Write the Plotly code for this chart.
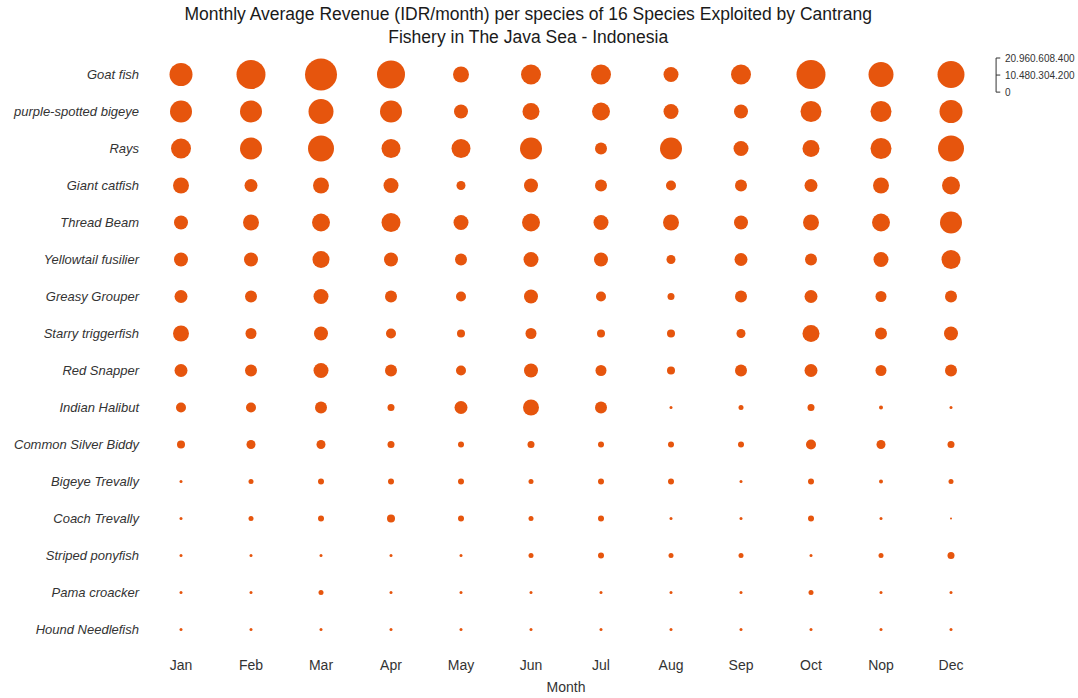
import plotly.graph_objects as go

months = ["Jan", "Feb", "Mar", "Apr", "May", "Jun", "Jul", "Aug", "Sep", "Oct", "Nop", "Dec"]

species = [
    "Goat fish", "purple-spotted bigeye", "Rays", "Giant catfish", "Thread Beam",
    "Yellowtail fusilier", "Greasy Grouper", "Starry triggerfish", "Red Snapper",
    "Indian Halibut", "Common Silver Biddy", "Bigeye Trevally", "Coach Trevally",
    "Striped ponyfish", "Pama croacker", "Hound Needlefish",
]

# Monthly average revenue (IDR/month), one list per species, Jan..Dec
goat_fish = [10829000000, 17216000000, 20960608400, 16049000000, 5240000000, 8188000000,
             8188000000, 4606000000, 8188000000, 17216000000, 12794000000, 14923000000]
purple_spotted_bigeye = [9907000000, 9907000000, 12794000000, 9907000000, 4012000000, 5916000000,
                         6632000000, 4606000000, 4012000000, 9027000000, 9027000000, 10829000000]
rays = [8188000000, 9907000000, 13838000000, 7390000000, 7390000000, 9907000000,
        2948000000, 9907000000, 4606000000, 5916000000, 9027000000, 13838000000]
giant_catfish = [5240000000, 3459000000, 5240000000, 4606000000, 1658000000, 4012000000,
                 2948000000, 2047000000, 2948000000, 3459000000, 5240000000, 6632000000]
thread_beam = [4012000000, 5240000000, 6632000000, 7390000000, 4606000000, 6632000000,
               4606000000, 5240000000, 4012000000, 5240000000, 6632000000, 9907000000]
yellowtail_fusilier = [4012000000, 4012000000, 5916000000, 4012000000, 2948000000, 4606000000,
                       4012000000, 1658000000, 3459000000, 2948000000, 4606000000, 7390000000]
greasy_grouper = [3459000000, 2948000000, 4606000000, 2948000000, 2047000000, 4012000000,
                  2047000000, 1003000000, 2948000000, 3459000000, 2477000000, 2948000000]
starry_triggerfish = [5240000000, 2477000000, 4012000000, 2047000000, 1310000000, 2477000000,
                      1310000000, 1310000000, 1658000000, 5916000000, 2948000000, 4012000000]
red_snapper = [3459000000, 2948000000, 4606000000, 2948000000, 2047000000, 4012000000,
               2477000000, 1310000000, 2948000000, 3459000000, 2477000000, 2948000000]
indian_halibut = [2047000000, 2047000000, 2948000000, 1003000000, 3459000000, 5240000000,
                  2948000000, 184000000, 512000000, 1003000000, 328000000, 184000000]
common_silver_biddy = [1310000000, 1658000000, 1658000000, 1003000000, 737000000, 1003000000,
                       737000000, 737000000, 737000000, 2047000000, 1658000000, 1003000000]
bigeye_trevally = [184000000, 512000000, 737000000, 737000000, 737000000, 512000000,
                   737000000, 737000000, 184000000, 737000000, 328000000, 512000000]
coach_trevally = [184000000, 512000000, 737000000, 1310000000, 737000000, 512000000,
                  737000000, 184000000, 184000000, 737000000, 184000000, 82000000]
striped_ponyfish = [184000000, 184000000, 184000000, 184000000, 184000000, 512000000,
                    737000000, 512000000, 512000000, 184000000, 512000000, 1003000000]
pama_croacker = [184000000, 184000000, 512000000, 184000000, 184000000, 184000000,
                 184000000, 184000000, 184000000, 512000000, 184000000, 184000000]
hound_needlefish = [184000000, 184000000, 184000000, 184000000, 184000000, 184000000,
                    184000000, 184000000, 184000000, 184000000, 184000000, 184000000]

revenue = [
    goat_fish, purple_spotted_bigeye, rays, giant_catfish, thread_beam,
    yellowtail_fusilier, greasy_grouper, starry_triggerfish, red_snapper,
    indian_halibut, common_silver_biddy, bigeye_trevally, coach_trevally,
    striped_ponyfish, pama_croacker, hound_needlefish,
]

xs, ys, vals = [], [], []
for name, row in zip(species, revenue):
    for m, v in zip(months, row):
        xs.append(m)
        ys.append(name)
        vals.append(v)

max_val = max(vals)
max_diam = 32
color = "#E6550D"
font_family = "Liberation Sans, Arial, sans-serif"
text_color = "#1a1a1a"

fig = go.Figure(go.Scatter(
    x=xs, y=ys, mode="markers",
    marker=dict(
        size=vals, sizemode="area", sizeref=2.0 * max_val / (max_diam ** 2), sizemin=1,
        color=color, line=dict(width=0), opacity=1,
    ),
    hovertemplate="%{y}<br>%{x}: %{marker.size:,}<extra></extra>",
    showlegend=False,
))


def dotted(n):
    return f"{int(round(n)):,}".replace(",", ".")


# size legend: bracket with three reference values, right of the plot area
leg_x = 1.012
leg_top, leg_bot = 0.9966, 0.939
leg_mid = (leg_top + leg_bot) / 2
shapes = [dict(type="line", xref="paper", yref="paper", x0=leg_x, x1=leg_x, y0=leg_bot, y1=leg_top,
               line=dict(color="#333333", width=1))]
annotations = []
for yy, val in [(leg_top, max_val), (leg_mid, max_val / 2), (leg_bot, 0)]:
    shapes.append(dict(type="line", xref="paper", yref="paper", x0=leg_x, x1=leg_x + 0.005,
                       y0=yy, y1=yy, line=dict(color="#333333", width=1)))
    annotations.append(dict(xref="paper", yref="paper", x=leg_x + 0.008, y=yy, xanchor="left",
                            yanchor="middle", text=dotted(val), showarrow=False,
                            font=dict(size=10, color="#333333", family=font_family)))

fig.update_layout(
    width=1078, height=698,
    margin=dict(l=146, r=92, t=56, b=50),
    paper_bgcolor="white", plot_bgcolor="white",
    font=dict(family=font_family, color=text_color),
    title=dict(
        text="Monthly Average Revenue (IDR/month) per species of 16 Species Exploited by Cantrang<br>Fishery in The Java Sea - Indonesia",
        x=0.49, xanchor="center", yref="container", y=1 - 20 / 698, yanchor="middle",
        font=dict(size=17.5, color=text_color, family=font_family),
    ),
    xaxis=dict(
        type="category", categoryorder="array", categoryarray=months,
        range=[-0.5, 11.5], showgrid=False, zeroline=False, showline=False,
        tickfont=dict(size=14, color="#333333"), ticks="", ticklabelstandoff=7,
        title=dict(text="Month", font=dict(size=14, color="#333333"), standoff=10),
        automargin=False,
    ),
    yaxis=dict(
        type="category", categoryorder="array", categoryarray=species[::-1],
        range=[-0.5, 15.5], showgrid=False, zeroline=False, showline=False,
        tickfont=dict(size=13, color="#333333", style="italic"), ticks="",
        ticklabelstandoff=6, automargin=False,
    ),
    shapes=shapes,
    annotations=annotations,
)

fig.write_html("out.html")
